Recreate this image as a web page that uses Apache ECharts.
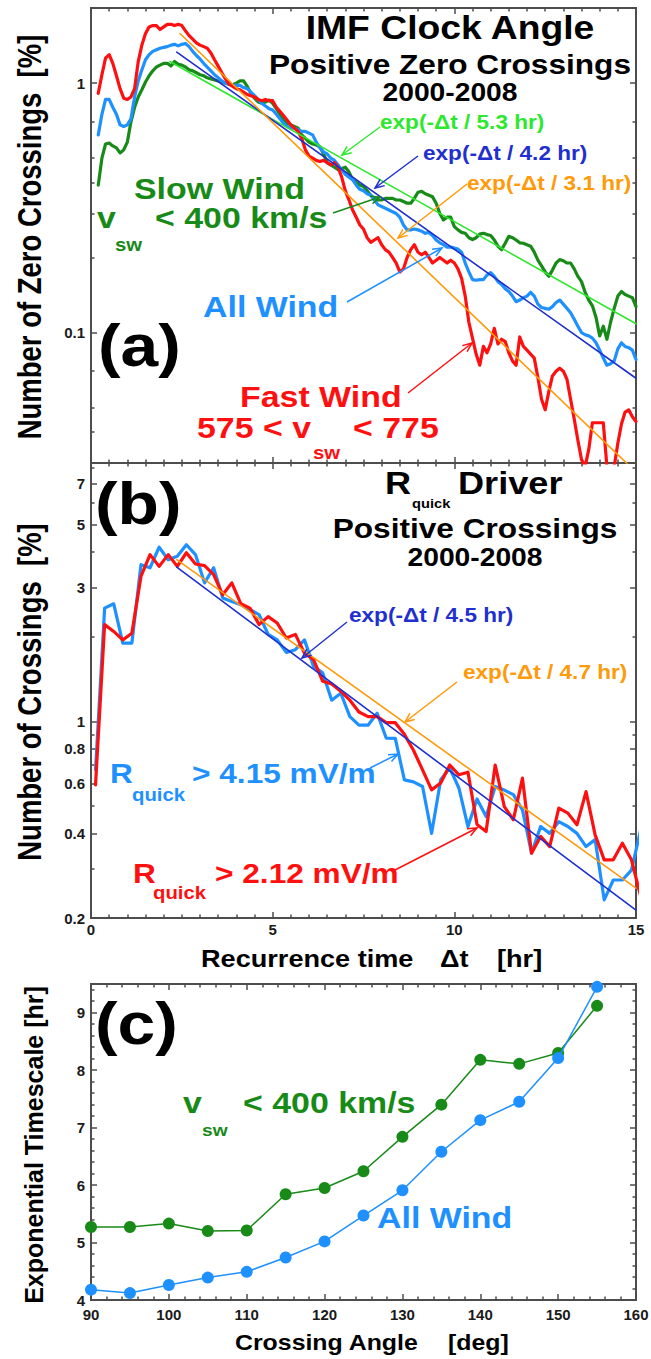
<!DOCTYPE html>
<html>
<head>
<meta charset="utf-8">
<script src="https://cdn.jsdelivr.net/npm/echarts@6.0.0/dist/echarts.min.js"></script>
<style>
html, body { margin: 0; padding: 0; background: #fff; }
#chart { width: 651px; height: 1359px; }
</style>
</head>
<body>
<div id="chart"></div>
<script>
// ---------- data ----------
// Panel (a): occurrence of IMF clock-angle zero crossings, sampled every 0.1 hr from 0.2 hr
const tStartA = 0.2, tStepA = 0.1;
const fastWindA = [
  0.91,1.08,1.26,1.30,1.20,1.07,0.95,0.87,0.86,0.88,
  0.95,1.22,1.42,1.58,1.68,1.70,1.70,1.64,1.68,1.72,
  1.72,1.70,1.72,1.70,1.62,1.55,1.50,1.45,1.42,1.40,
  1.38,1.32,1.24,1.17,1.10,1.04,0.99,0.97,0.95,0.94,
  0.92,0.90,0.89,0.88,0.86,0.85,0.86,0.85,0.85,0.80,
  0.77,0.74,0.71,0.68,0.66,0.64,0.60,0.54,0.51,0.50,
  0.49,0.485,0.49,0.48,0.47,0.48,0.46,0.42,0.37,0.34,
  0.31,0.29,0.27,0.26,0.24,0.23,0.235,0.24,0.225,0.215,
  0.21,0.20,0.19,0.175,0.18,0.20,0.215,0.225,0.21,0.205,
  0.21,0.20,0.19,0.195,0.20,0.195,0.19,0.195,0.19,0.18,
  0.165,0.14,0.11,0.095,0.082,0.074,0.088,0.083,0.09,0.104,
  0.09,0.094,0.092,0.083,0.077,0.074,0.096,0.088,0.085,0.082,
  0.079,0.066,0.054,0.049,0.058,0.067,0.07,0.072,0.07,0.065,
  0.054,0.045,0.037,0.031,0.029,0.034,0.0435,0.0435,0.0435,0.0435,
  0.029,0.029,0.029,0.036,0.043,0.048,0.049,0.046,0.044
];
const allWindA = [
  0.62,0.75,0.86,0.86,0.80,0.75,0.68,0.67,0.68,0.72,
  0.88,1.02,1.13,1.24,1.30,1.34,1.36,1.38,1.39,1.40,
  1.42,1.43,1.41,1.43,1.44,1.40,1.34,1.29,1.25,1.20,
  1.16,1.12,1.08,1.05,1.02,1.00,0.99,0.98,0.98,0.98,
  0.96,0.95,0.92,0.89,0.86,0.83,0.81,0.79,0.78,0.75,
  0.72,0.69,0.67,0.66,0.66,0.65,0.64,0.64,0.63,0.62,
  0.58,0.55,0.53,0.52,0.50,0.49,0.47,0.45,0.43,0.42,
  0.41,0.39,0.375,0.37,0.36,0.355,0.34,0.325,0.32,0.315,
  0.31,0.305,0.30,0.29,0.27,0.258,0.258,0.26,0.258,0.255,
  0.25,0.252,0.245,0.235,0.229,0.225,0.22,0.22,0.218,0.216,
  0.21,0.19,0.175,0.163,0.162,0.163,0.163,0.17,0.174,0.168,
  0.16,0.156,0.15,0.146,0.14,0.133,0.135,0.138,0.14,0.145,
  0.14,0.13,0.126,0.125,0.124,0.127,0.132,0.135,0.13,0.125,
  0.12,0.113,0.106,0.10,0.098,0.097,0.095,0.091,0.085,0.079,
  0.074,0.075,0.077,0.086,0.091,0.088,0.087,0.085,0.078
];
const slowWindA = [
  0.39,0.50,0.57,0.575,0.56,0.55,0.525,0.54,0.58,0.70,
  0.80,0.88,0.94,1.01,1.07,1.12,1.16,1.18,1.20,1.20,
  1.17,1.22,1.19,1.18,1.16,1.13,1.12,1.10,1.08,1.07,
  1.05,1.04,1.03,1.02,1.01,1.00,0.99,0.985,1.00,1.02,
  1.02,0.97,0.91,0.87,0.84,0.83,0.84,0.855,0.83,0.79,
  0.75,0.71,0.69,0.68,0.67,0.66,0.62,0.60,0.58,0.57,
  0.565,0.556,0.52,0.48,0.47,0.46,0.45,0.455,0.46,0.44,
  0.41,0.40,0.39,0.385,0.37,0.355,0.345,0.34,0.34,0.345,
  0.345,0.345,0.34,0.34,0.335,0.33,0.33,0.345,0.365,0.368,
  0.36,0.355,0.35,0.33,0.30,0.283,0.29,0.29,0.266,0.258,
  0.252,0.25,0.24,0.236,0.24,0.248,0.25,0.247,0.245,0.235,
  0.222,0.215,0.228,0.243,0.24,0.235,0.229,0.228,0.225,0.222,
  0.21,0.195,0.185,0.175,0.168,0.178,0.19,0.196,0.194,0.19,
  0.19,0.18,0.168,0.16,0.145,0.135,0.128,0.115,0.097,0.106,
  0.094,0.11,0.125,0.14,0.146,0.142,0.14,0.138,0.127
];
// exponential fits for panel (a): time constants [hr] and the (t, value) where each fit starts
const fitTauA = [5.3, 4.2, 3.1];          // slow, all, fast
const fitStartA = [[2.17, 1.22], [2.36, 1.33], [2.45, 1.58]];

// Panel (b): R_quick driver crossings, 0.25 hr bins centred at 0.125 hr
const tStartB = 0.125, tStepB = 0.25;
const rq212B = [
  0.595,2.21,2.09,1.95,2.06,3.28,3.92,3.56,3.92,3.56,
  3.98,3.63,3.58,3.33,2.82,3.11,2.62,2.53,2.21,2.36,
  2.24,1.98,2.04,1.75,1.66,1.39,1.36,1.28,1.19,1.08,
  1.04,1.04,0.99,0.99,0.90,0.79,0.673,0.571,0.604,0.70,
  0.646,0.66,0.43,0.406,0.70,0.498,0.447,0.629,0.34,0.39,
  0.359,0.492,0.472,0.429,0.563,0.395,0.322,0.322,0.369,0.322,
  0.24
];
const rq415B = [
  0.673,2.53,2.62,1.90,1.90,3.61,3.52,4.17,3.76,3.87,
  4.25,3.92,3.11,3.52,2.75,2.67,2.60,2.50,2.40,2.04,
  1.95,1.76,1.80,1.95,1.57,1.49,1.19,1.26,1.04,0.97,
  0.97,1.07,0.873,0.87,0.62,0.61,0.587,0.40,0.62,0.683,
  0.58,0.423,0.53,0.459,0.587,0.57,0.549,0.485,0.34,0.423,
  0.40,0.44,0.423,0.40,0.359,0.38,0.232,0.273,0.273,0.296,
  0.41
];
const fitTauB = [4.5, 4.7];               // R_quick > 4.15, R_quick > 2.12
const fitStartB = [[2.36, 3.54], [2.36, 3.76]];

// Panel (c): exponential timescale versus crossing angle
const crossingAngle = [90, 95, 100, 105, 110, 115, 120, 125, 130, 135, 140, 145, 150, 155];
const tauSlowC = [5.27, 5.27, 5.33, 5.20, 5.21, 5.84, 5.95, 6.24, 6.84, 7.40, 8.18, 8.11, 8.30, 9.12];
const tauAllC  = [4.18, 4.12, 4.26, 4.39, 4.49, 4.74, 5.02, 5.47, 5.91, 6.58, 7.13, 7.45, 8.21, 9.45];

// axis tick values
const yLabelsA = [0.1, 1];
const yMinorA  = [0.04, 0.05, 0.07, 0.2, 0.3, 0.4, 0.5, 0.7, 2];
const yLabelsB = [0.2, 0.4, 0.6, 0.8, 1, 3, 5, 7];
const yMinorB  = [0.3, 0.5, 0.7, 0.9, 2, 4, 6, 8];
const yLabelsC = [4, 5, 6, 7, 8, 9];

// ---------- styling ----------
const FONT = '"Liberation Sans", Arial, Helvetica, sans-serif';
const FRAME = '#4d4d4d';
const COL = {
  fast: '#ff1010', all: '#1e90ff', slow: '#178a17',
  fitSlow: '#2ee82e', fitAll: '#1f2fd0', fitFast: '#ff9a0a', ink: '#000'
};
const SX = 1.13;  // horizontal stretch of annotation lettering

const pairs = (t0, dt, vals) => vals.map((v, i) => [+(t0 + dt * i).toFixed(3), v]);
const fitLine = (start, tau, tEnd) => [start, [tEnd, start[1] * Math.exp(-(tEnd - start[0]) / tau)]];

const tickLabel = { fontFamily: FONT, fontWeight: 'bold', fontSize: 15, color: '#1a1a1a' };
const tickLine = { color: FRAME, width: 1.5 };

function xAxis(grid, pos, min, max, interval, minorSplit, showLabel, margin) {
  return {
    type: 'value', gridIndex: grid, position: pos, min, max, interval,
    axisLine: { show: false }, splitLine: { show: false },
    axisTick: { show: true, inside: true, length: 6, lineStyle: tickLine },
    minorTick: { show: true, splitNumber: minorSplit, length: 3.5, lineStyle: tickLine },
    axisLabel: Object.assign({ show: showLabel, margin: margin || 5 }, tickLabel)
  };
}
function yAxis(grid, pos, type, min, max, ticks, showLabel, len) {
  const fmt = v => String(+(+v).toPrecision(3));
  return {
    type, gridIndex: grid, position: pos, min, max,
    logBase: 10,
    axisLine: { show: false }, splitLine: { show: false }, minorTick: { show: false },
    axisTick: { show: true, inside: true, length: len, customValues: ticks, lineStyle: tickLine },
    axisLabel: Object.assign({ show: showLabel, customValues: ticks, margin: 6, formatter: fmt }, tickLabel)
  };
}

const gridBase = { show: true, borderColor: FRAME, borderWidth: 2, backgroundColor: 'transparent', outerBoundsMode: 'none', containLabel: false };
const grids = [
  Object.assign({ left: 91, top: 8, width: 545, height: 455 }, gridBase),
  Object.assign({ left: 91, top: 463, width: 545, height: 455 }, gridBase),
  Object.assign({ left: 91, top: 984, width: 545, height: 316 }, gridBase)
];

const xAxes = [
  xAxis(0, 'bottom', 0, 15, 5, 10, false),
  xAxis(0, 'top', 0, 15, 5, 10, false),
  xAxis(1, 'bottom', 0, 15, 5, 10, true, 4),
  xAxis(1, 'top', 0, 15, 5, 10, false),
  xAxis(2, 'bottom', 90, 160, 10, 5, true, 7),
  xAxis(2, 'top', 90, 160, 10, 5, false)
];

const minorC = [];
for (let v = 4; v < 9.45; v += 0.2) { if (Math.abs(v - Math.round(v)) > 0.01) minorC.push(+v.toFixed(1)); }

const yAxes = [
  yAxis(0, 'left', 'log', 0.03, 2, yLabelsA, true, 6),
  yAxis(0, 'left', 'log', 0.03, 2, yMinorA, false, 3.5),
  yAxis(0, 'right', 'log', 0.03, 2, yLabelsA, false, 6),
  yAxis(0, 'right', 'log', 0.03, 2, yMinorA, false, 3.5),
  yAxis(1, 'left', 'log', 0.2, 8.3, yLabelsB, true, 6),
  yAxis(1, 'left', 'log', 0.2, 8.3, yMinorB, false, 3.5),
  yAxis(1, 'right', 'log', 0.2, 8.3, yLabelsB, false, 6),
  yAxis(1, 'right', 'log', 0.2, 8.3, yMinorB, false, 3.5),
  yAxis(2, 'left', 'value', 4, 9.5, yLabelsC, true, 6),
  yAxis(2, 'left', 'value', 4, 9.5, minorC, false, 3.5),
  yAxis(2, 'right', 'value', 4, 9.5, yLabelsC, false, 6),
  yAxis(2, 'right', 'value', 4, 9.5, minorC, false, 3.5)
];

function line(xi, yi, data, color, width, z, extra) {
  return Object.assign({
    type: 'line', xAxisIndex: xi, yAxisIndex: yi, data, showSymbol: false, symbol: 'none',
    clip: true, z, silent: true, animation: false,
    lineStyle: { color, width, join: 'round', cap: 'round' }, itemStyle: { color }
  }, extra || {});
}

const series = [
  // panel (a)
  line(0, 0, pairs(tStartA, tStepA, slowWindA), COL.slow, 3.2, 2),
  line(0, 0, pairs(tStartA, tStepA, allWindA), COL.all, 3.2, 3),
  line(0, 0, pairs(tStartA, tStepA, fastWindA), COL.fast, 3.2, 4),
  line(0, 0, fitLine(fitStartA[0], fitTauA[0], 15), COL.fitSlow, 1.6, 5),
  line(0, 0, fitLine(fitStartA[1], fitTauA[1], 15), COL.fitAll, 1.6, 5),
  line(0, 0, fitLine(fitStartA[2], fitTauA[2], 15), COL.fitFast, 1.6, 5),
  // panel (b)
  line(2, 4, pairs(tStartB, tStepB, rq415B), COL.all, 3.2, 3),
  line(2, 4, pairs(tStartB, tStepB, rq212B), COL.fast, 3.2, 4),
  line(2, 4, fitLine(fitStartB[0], fitTauB[0], 15), COL.fitAll, 1.6, 5),
  line(2, 4, fitLine(fitStartB[1], fitTauB[1], 15), COL.fitFast, 1.6, 5),
  // panel (c)
  line(4, 8, crossingAngle.map((a, i) => [a, tauSlowC[i]]), COL.slow, 1.5, 3,
       { showSymbol: true, symbol: 'circle', symbolSize: 12 }),
  line(4, 8, crossingAngle.map((a, i) => [a, tauAllC[i]]), COL.all, 1.5, 4,
       { showSymbol: true, symbol: 'circle', symbolSize: 12 })
];

// ---------- annotations ----------
function txt(x, y, text, size, color, o) {
  o = o || {};
  const align = o.align || 'left';
  return {
    type: 'text', x, y, z: 50, silent: true,
    scaleX: o.sx !== undefined ? o.sx : SX, scaleY: o.sy !== undefined ? o.sy : 1,
    rotation: o.rot || 0,
    style: {
      text, fill: color, font: 'bold ' + size + 'px ' + FONT,
      fontFamily: FONT, fontWeight: 'bold', fontSize: size,
      align, textAlign: align, verticalAlign: 'middle', textVerticalAlign: 'middle'
    }
  };
}
function arrow(x1, y1, x2, y2, color) {
  const ang = Math.atan2(y2 - y1, x2 - x1), L = 10, a = 0.4;
  const p1 = [x2 - L * Math.cos(ang - a), y2 - L * Math.sin(ang - a)];
  const p2 = [x2 - L * Math.cos(ang + a), y2 - L * Math.sin(ang + a)];
  return [
    { type: 'line', z: 50, silent: true, shape: { x1, y1, x2, y2 }, style: { stroke: color, lineWidth: 1.5 } },
    { type: 'polyline', z: 50, silent: true, shape: { points: [p1, [x2, y2], p2] },
      style: { stroke: color, lineWidth: 1.5, fill: null } }
  ];
}

const K = COL.ink;
const elements = [
  // panel (a) titles
  txt(450, 27, 'IMF Clock Angle', 33, K, { align: 'center' }),
  txt(450, 64, 'Positive Zero Crossings', 28, K, { align: 'center' }),
  txt(450, 93, '2000-2008', 25, K, { align: 'center' }),
  txt(380, 122, 'exp(-\u0394t / 5.3 hr)', 20, COL.fitSlow),
  txt(423, 153, 'exp(-\u0394t / 4.2 hr)', 20, COL.fitAll),
  txt(467, 183, 'exp(-\u0394t / 3.1 hr)', 20, COL.fitFast),
  ...arrow(380, 127, 342, 155, COL.fitSlow),
  ...arrow(418, 156, 375, 188, COL.fitAll),
  ...arrow(467, 184, 398, 238, COL.fitFast),
  txt(134, 189, 'Slow Wind', 30, COL.slow),
  txt(97, 218, 'v', 30, COL.slow),
  txt(115, 245, 'sw', 18, COL.slow),
  txt(155, 218, '< 400 km/s', 30, COL.slow),
  ...arrow(333, 213, 380, 197, COL.slow),
  txt(203, 307, 'All Wind', 30, COL.all),
  ...arrow(347, 302, 442, 248, COL.all),
  txt(98, 345, '(a)', 60, K),
  txt(240, 397, 'Fast Wind', 30, COL.fast),
  txt(197, 428, '575 < v', 30, COL.fast),
  txt(313, 453, 'sw', 18, COL.fast),
  txt(353, 428, '< 775', 30, COL.fast),
  ...arrow(408, 393, 472, 343, COL.fast),

  // panel (b)
  txt(95, 503, '(b)', 60, K),
  txt(385, 483, 'R', 32, K),
  txt(412, 503, 'quick', 13, K),
  txt(458, 483, 'Driver', 32, K),
  txt(475, 528, 'Positive Crossings', 28, K, { align: 'center' }),
  txt(475, 558, '2000-2008', 25, K, { align: 'center' }),
  txt(349, 615, 'exp(-\u0394t / 4.5 hr)', 20, COL.fitAll),
  ...arrow(347, 622, 302, 658, COL.fitAll),
  txt(463, 672, 'exp(-\u0394t / 4.7 hr)', 20, COL.fitFast),
  ...arrow(457, 682, 405, 722, COL.fitFast),
  txt(110, 773, 'R', 28, COL.all),
  txt(132, 795, 'quick', 18, COL.all),
  txt(192, 773, '> 4.15 mV/m', 28, COL.all),
  ...arrow(370, 768, 398, 754, COL.all),
  txt(133, 873, 'R', 28, COL.fast),
  txt(153, 893, 'quick', 18, COL.fast),
  txt(215, 873, '> 2.12 mV/m', 28, COL.fast),
  ...arrow(395, 870, 477, 828, COL.fast),

  // panel (c)
  txt(95, 1023, '(c)', 60, K),
  txt(183, 1103, 'v', 30, COL.slow),
  txt(202, 1130, 'sw', 17, COL.slow),
  txt(243, 1103, '< 400 km/s', 30, COL.slow),
  txt(377, 1218, 'All Wind', 30, COL.all),

  // axis titles
  txt(29, 237, 'Number of Zero Crossings  [%]', 27.5, K, { align: 'center', rot: Math.PI / 2, sx: 1, sy: 1.22 }),
  txt(29, 692, 'Number of Crossings  [%]', 27.5, K, { align: 'center', rot: Math.PI / 2, sx: 1, sy: 1.22 }),
  txt(34, 1145, 'Exponential Timescale [hr]', 25, K, { align: 'center', rot: Math.PI / 2, sx: 1, sy: 1.0 }),
  txt(201, 959, 'Recurrence time', 24, K),
  txt(440, 959, '\u0394t', 24, K),
  txt(497, 959, '[hr]', 24, K),
  txt(235, 1343, 'Crossing Angle', 22, K),
  txt(448, 1343, '[deg]', 22, K)
];

const chart = echarts.init(document.getElementById('chart'), null, { renderer: 'svg' });
chart.setOption({
  animation: false,
  backgroundColor: '#fff',
  grid: grids,
  xAxis: xAxes,
  yAxis: yAxes,
  series,
  graphic: { elements }
});
</script>
</body>
</html>
